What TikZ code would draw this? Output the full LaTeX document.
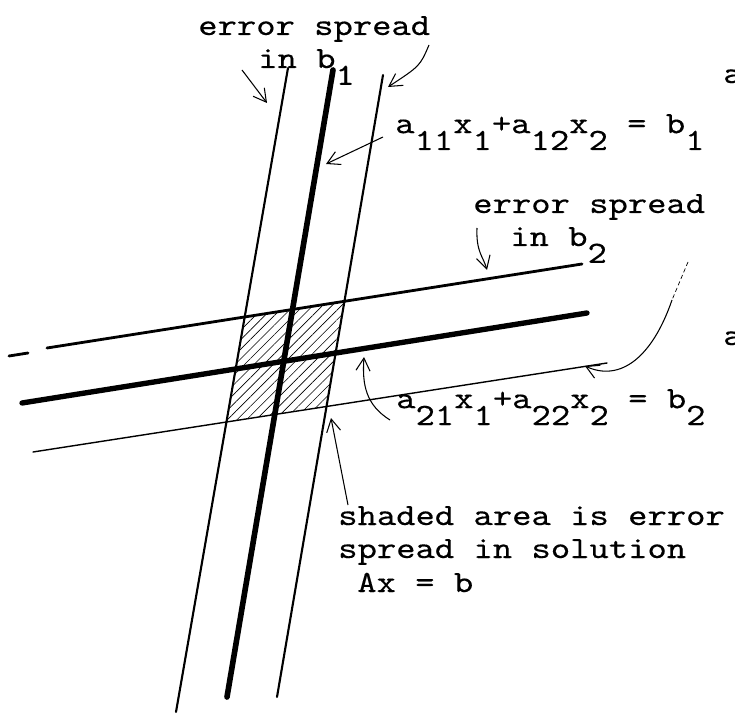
\documentclass[tikz,border=0pt]{standalone}
\usepackage{fontspec}
\newfontfamily\typer{lmmono10-regular.otf}[FakeStretch=1.19,FakeBold=0.3]
\usepackage{tikz}
\usetikzlibrary{arrows.meta,patterns.meta}
\newcommand{\hup}[1]{\raisebox{12pt}{#1}}
\newcommand{\hdn}[1]{\raisebox{-12pt}{#1}}

\begin{document}
\begin{tikzpicture}[x=0.025cm, y=-0.025cm,
  every node/.style={font=\typer\fontsize{22}{24}\selectfont, inner sep=0pt, anchor=base west},
  note/.style={line width=0.75pt, -{Straight Barb[length=9pt,width=10pt]}}]
\useasboundingbox (0,0) rectangle (735,714);
% the three lines of each equation
\foreach \n/\xa/\ya/\xb/\yb in {l1/288/68/176/712, l0/333/70/227/697, l2/383/75/277/697,
                                h1/47/348/582/264, h0/22/403/587/313, h2/33/452/607/363}{
  \coordinate (\n-a) at (\xa,\ya);
  \coordinate (\n-b) at (\xb,\yb);
}
% shaded area
\fill[pattern={Lines[angle=45,distance=4.8pt,line width=0.45pt]}]
  (intersection of l1-a--l1-b and h1-a--h1-b) -- (intersection of l2-a--l2-b and h1-a--h1-b)
  -- (intersection of l2-a--l2-b and h2-a--h2-b) -- (intersection of l1-a--l1-b and h2-a--h2-b) -- cycle;
\foreach \n/\w in {l1/1.5pt, l0/4pt, l2/1.5pt, h1/2pt, h0/3.8pt, h2/1pt}{
  \draw[line width=\w, line cap=round] (\n-a) -- (\n-b);
}
\coordinate (h1-c) at (9,356);
\coordinate (h1-d) at (28,353);
\draw[line width=2pt, line cap=round] (h1-c) -- (h1-d);

% labels
\node (eb1) at (198,35) {error spread};
\node (eb1b) at (258,68) {in b\hdn{1}};
\node (eq1) at (395,150) {\hup{a}11\hup{x}1\hup{+a}12\hup{x}2\hup{ = b}1};
\node (eb2) at (473,213) {error spread};
\node (eb2b) at (510,246) {in b\hdn{2}};
\node (eq2) at (396,425) {\hup{a}21\hup{x}1\hup{+a}22\hup{x}2\hup{ = b}2};
\node (sh1) at (338,525) {shaded area is error};
\node (sh2) at (338,558) {spread in solution};
\node (sh3) at (357,592) {Ax = b};
\node (ca1) at (723,83) {a};
\node (ca2) at (723,345) {a};

% pointers
\coordinate (p1s) at (242,70);   \coordinate (p1t) at (267,103);
\coordinate (p2s) at (429,45);   \coordinate (p2t) at (388,87);
\coordinate (p3s) at (383,137);  \coordinate (p3t) at (326,164);
\coordinate (p4s) at (477,228);  \coordinate (p4t) at (487,270);
\coordinate (p5s) at (390,420);  \coordinate (p5t) at (364,357);
\coordinate (p6s) at (688,262);  \coordinate (p6m) at (672,300);  \coordinate (p6t) at (585,366);
\coordinate (p7s) at (348,505);  \coordinate (p7t) at (331,418);
\draw[note] (p1s) -- (p1t);
\draw[note] (p2s) .. controls (420,66) .. (p2t);
\draw[note] (p3s) -- (p3t);
\draw[note] (p4s) .. controls (476,252) and (483,256) .. (p4t);
\draw[note] (p5s) .. controls (366,405) and (362,385) .. (p5t);
\draw[line width=0.5pt, dash pattern=on 3pt off 2pt] (p6s) -- (p6m);
\draw[note] (p6m) .. controls (652,358) and (620,382) .. (p6t);
\draw[note] (p7s) -- (p7t);
\end{tikzpicture}
\end{document}
